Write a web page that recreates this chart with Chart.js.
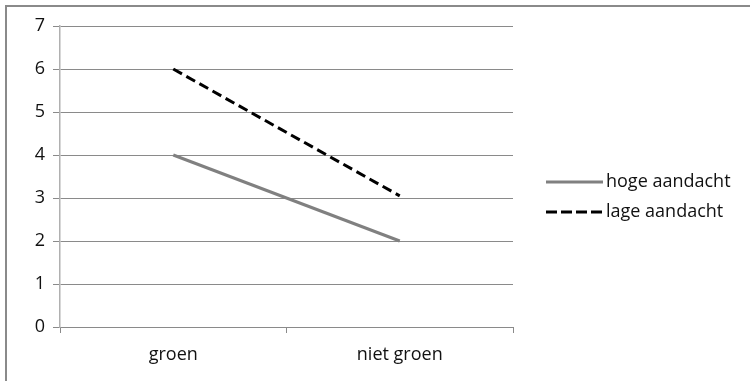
<!DOCTYPE html>
<html>
<head>
<meta charset="utf-8">
<script src="https://cdn.jsdelivr.net/npm/chart.js@4"></script>
<style>
  html, body { margin: 0; padding: 0; background: #fff; overflow: hidden; }
  #wrap { position: relative; width: 750px; height: 381px; }
  #frame { position: absolute; left: 5px; top: 5px; width: 800px; height: 400px;
           border-top: 2px solid #8a8a8a; border-left: 2px solid #8a8a8a; }
  canvas { position: absolute; left: 0; top: 0; }
</style>
</head>
<body>
<div id="wrap">
  <div id="frame"></div>
  <canvas id="c" width="750" height="381"></canvas>
</div>
<script>
// Categories and series values
const categories = ['groen', 'niet groen'];
const hogeAandacht = [4, 2];
const lageAandacht = [6, 3.05];
const seriesNames = ['hoge aandacht', 'lage aandacht'];
const yTicks = [0, 1, 2, 3, 4, 5, 6, 7];

const FONT = '"Open Sans", sans-serif';
const TEXT = '#111111';

const series = [
  { label: seriesNames[0], data: hogeAandacht, borderColor: '#808080', borderWidth: 3, borderDash: [], legendDash: [] },
  { label: seriesNames[1], data: lageAandacht, borderColor: '#000000', borderWidth: 3, borderDash: [10, 5], legendDash: [11, 4] }
];

// Legend drawn to the right of the plot area
const sideLegend = {
  id: 'sideLegend',
  afterDraw(chart) {
    const ctx = chart.ctx;
    const x0 = 546, x1 = 603;
    const rows = [182, 212];
    ctx.save();
    series.forEach((s, i) => {
      const y = rows[i];
      ctx.beginPath();
      ctx.setLineDash(s.legendDash);
      ctx.lineWidth = 3;
      ctx.strokeStyle = s.borderColor;
      ctx.moveTo(x0, y);
      ctx.lineTo(x1, y);
      ctx.stroke();
      ctx.setLineDash([]);
      ctx.fillStyle = TEXT;
      ctx.font = '18px ' + FONT;
      ctx.textBaseline = 'middle';
      ctx.textAlign = 'left';
      ctx.fillText(s.label, x1 + 3, y);
    });
    ctx.restore();
  }
};

new Chart(document.getElementById('c'), {
  type: 'line',
  data: {
    labels: categories,
    datasets: series.map(s => ({
      label: s.label,
      data: s.data,
      borderColor: s.borderColor,
      backgroundColor: s.borderColor,
      borderWidth: s.borderWidth,
      borderDash: s.borderDash,
      pointRadius: 0,
      tension: 0,
      fill: false
    }))
  },
  options: {
    responsive: false,
    animation: false,
    layout: { padding: { left: 8, right: 237, top: 26, bottom: 0 } },
    plugins: { legend: { display: false }, tooltip: { enabled: false } },
    scales: {
      x: {
        offset: true,
        afterFit: s => { s.height = 54; },
        grid: { offset: true, drawOnChartArea: false, drawTicks: true, tickLength: 6, color: '#8a8a8a', lineWidth: 1 },
        border: { color: '#8a8a8a', width: 1 },
        ticks: { color: TEXT, font: { family: FONT, size: 18 }, padding: 11 }
      },
      y: {
        min: 0,
        max: 7,
        afterFit: s => { s.width = 52; },
        afterBuildTicks: s => { s.ticks = yTicks.map(v => ({ value: v })); },
        grid: { color: '#8a8a8a', lineWidth: 1, tickLength: 7 },
        border: { color: '#b0b0b0', width: 1.5 },
        ticks: { color: TEXT, font: { family: FONT, size: 18 }, padding: 8 }
      }
    }
  },
  plugins: [sideLegend]
});
</script>
</body>
</html>
